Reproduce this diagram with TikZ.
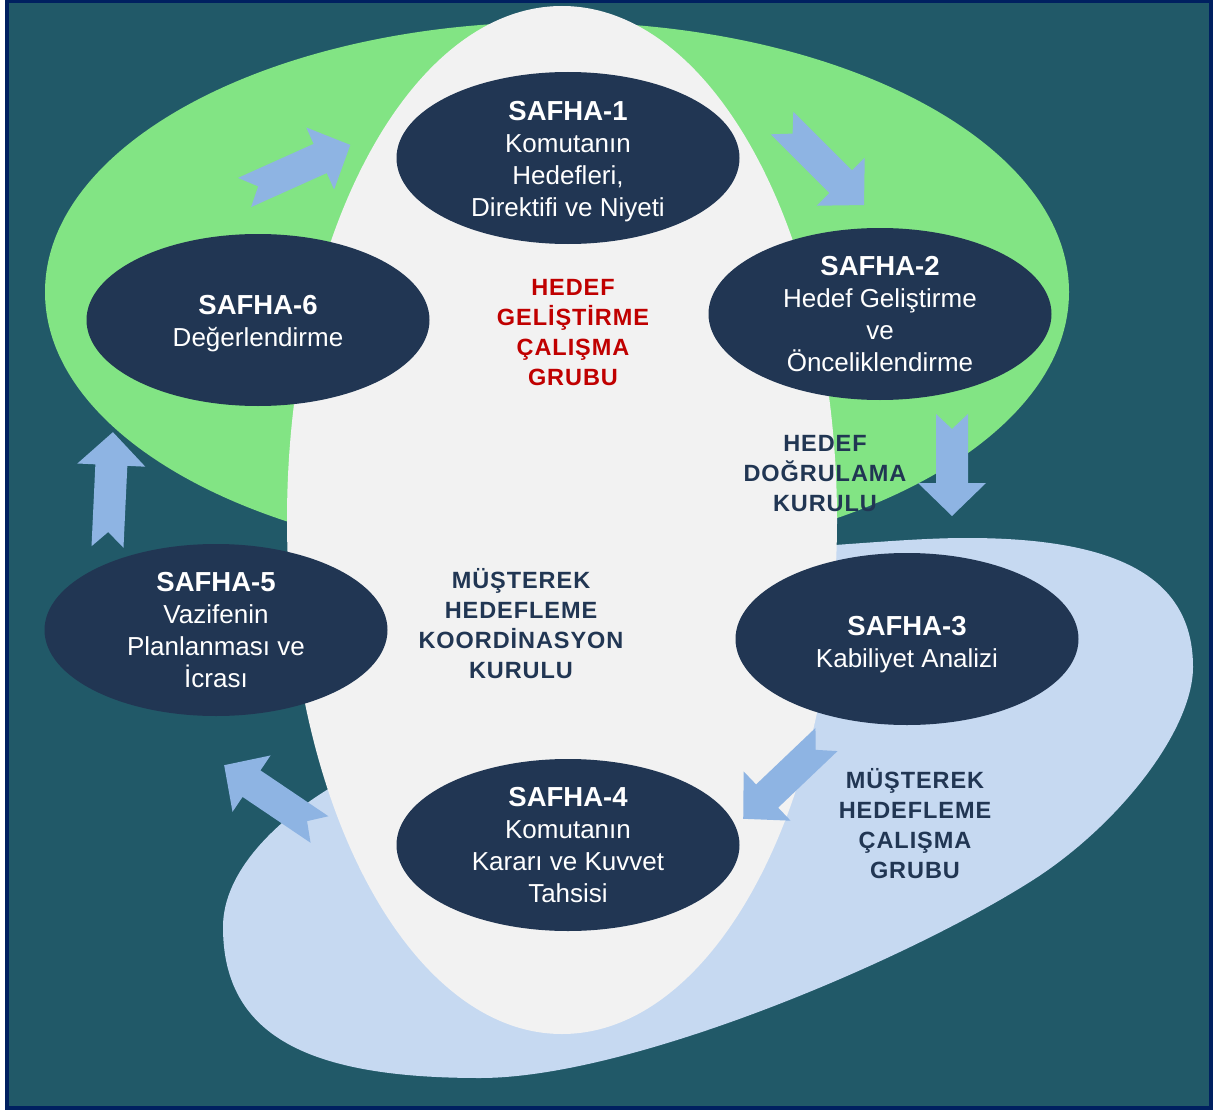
\documentclass[tikz,border=0pt]{standalone}
\usepackage{fontspec}
\setmainfont{Liberation Sans}
\newfontfamily\lblfont[LetterSpace=4]{Liberation Sans}
\usetikzlibrary{shapes.geometric}
\definecolor{bgteal}{HTML}{215968}
\definecolor{frameblue}{HTML}{002060}
\definecolor{greenfill}{HTML}{82E484}
\definecolor{lightblue}{HTML}{C6D9F1}
\definecolor{paleback}{HTML}{F2F2F2}
\definecolor{arrowblue}{HTML}{8EB4E3}
\definecolor{navy}{HTML}{213653}
\definecolor{redlbl}{HTML}{C00000}
\newcommand{\ttl}[1]{{\fontsize{27.5}{32}\selectfont\bfseries #1}}
\newcommand{\blkarrow}[4]{%
  \fill[arrowfill, shift={(#1,#2)}, rotate=#3]
    (0,16) -- (#4-33,16) -- (#4-33,34) -- (#4,0) -- (#4-33,-34)
    -- (#4-33,-16) -- (0,-16) -- (15,0) -- cycle;}
\tikzset{
  phase/.style={ellipse, fill=navy, minimum width=343pt,
    minimum height=172pt, inner sep=0pt},
  phtext/.style={text=white, inner sep=0pt, align=center,
    font=\fontsize{26}{32}\selectfont},
  lbl/.style={align=center, font=\lblfont\bfseries\fontsize{23.5}{30}\selectfont},
  arrowfill/.style={fill=arrowblue},
}
\begin{document}
\begin{tikzpicture}[x=1pt,y=-1pt]
\useasboundingbox (0,0) rectangle (1219,1113);
% background
\fill[bgteal] (7,1) rectangle (1211,1108);
% light blue loop
\fill[lightblue] (967,538)
  .. controls (1117,538) and (1193,577) .. (1193,667)
  .. controls (1193,730) and (1119,825) .. (1033,880)
  .. controls (906,961) and (630,1078) .. (480,1078)
  .. controls (310,1078) and (223,1037) .. (223,927)
  .. controls (223,870) and (279,819) .. (330,788)
  .. controls (501,685) and (755,551) .. (835,545)
  .. controls (885,541.5) and (927,538) .. (967,538) -- cycle;
% green ellipse
\fill[greenfill] (557,292) ellipse [x radius=512, y radius=270];
% central pale ellipse
\fill[paleback] (562,520) ellipse [x radius=275, y radius=514];
% block arrows
\blkarrow{244.5}{192.5}{24.2}{116}
\blkarrow{782}{123}{-45}{116}
\blkarrow{952}{414}{-90}{102}
\blkarrow{107.5}{547}{87.3}{115}
\blkarrow{319.5}{829.5}{146}{115}
\blkarrow{826.5}{739.5}{-136.4}{115}
% phases
\node[phase] (s1) at (568,158) {};
\node[phase] (s2) at (880,314) {};
\node[phase] (s3) at (907,639) {};
\node[phase] (s4) at (568,845) {};
\node[phase] (s5) at (216,630) {};
\node[phase] (s6) at (258,320) {};
\node[phtext] (t1) at ([yshift=-4pt]s1.center) {\ttl{SAFHA-1}\\Komutanın\\Hedefleri,\\Direktifi ve Niyeti};
\node[phtext] (t2) at (s2.center) {\ttl{SAFHA-2}\\Hedef Geliştirme\\ve\\Önceliklendirme};
\node[phtext] (t3) at ([yshift=-6pt]s3.center) {\ttl{SAFHA-3}\\Kabiliyet Analizi};
\node[phtext] (t4) at (s4.center) {\ttl{SAFHA-4}\\Komutanın\\Kararı ve Kuvvet\\Tahsisi};
\node[phtext] (t5) at (s5.center) {\ttl{SAFHA-5}\\Vazifenin\\Planlanması ve\\İcrası};
\node[phtext] (t6) at ([yshift=-4pt]s6.center) {\ttl{SAFHA-6}\\Değerlendirme};
% labels
\node[lbl, text=redlbl] (l1) at (573,333) {HEDEF\\GELİŞTİRME\\ÇALIŞMA\\GRUBU};
\node[lbl, text=navy] (l2) at (825,474) {HEDEF\\DOĞRULAMA\\KURULU};
\node[lbl, text=navy] (l3) at (521,624) {MÜŞTEREK\\HEDEFLEME\\KOORDİNASYON\\KURULU};
\node[lbl, text=navy] (l4) at (915,824) {MÜŞTEREK\\HEDEFLEME\\ÇALIŞMA\\GRUBU};
% frame
\draw[frameblue, line width=4pt] (7,1) rectangle (1211,1108);
\end{tikzpicture}
\end{document}
